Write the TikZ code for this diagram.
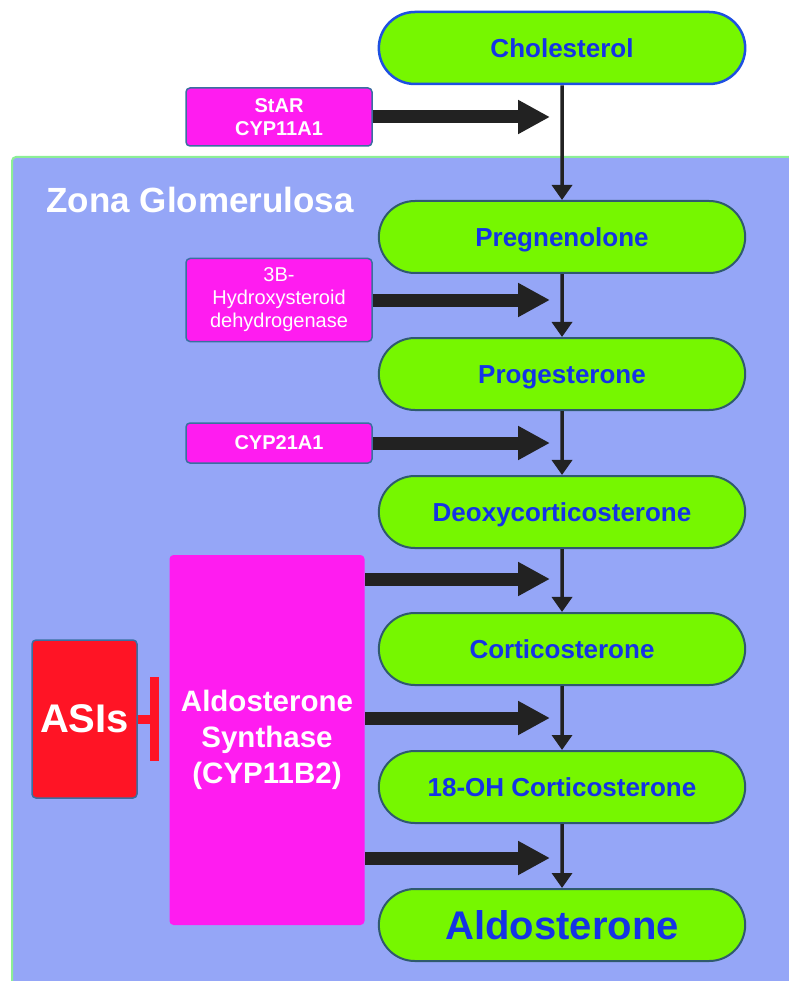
\documentclass[tikz,border=0pt]{standalone}
\usepackage{fontspec}
\setmainfont{Liberation Sans}
\usetikzlibrary{arrows.meta,positioning,shapes.misc}
\definecolor{zonefill}{RGB}{149,166,247}
\definecolor{zoneline}{RGB}{140,238,150}
\definecolor{pillgreen}{RGB}{118,247,0}
\definecolor{pillline}{RGB}{47,90,110}
\definecolor{cholline}{RGB}{30,80,225}
\definecolor{pilltext}{RGB}{20,51,230}
\definecolor{enzmag}{RGB}{255,28,240}
\definecolor{enzline}{RGB}{58,111,160}
\definecolor{asired}{RGB}{255,20,37}
\definecolor{arrowgray}{RGB}{34,34,34}
\begin{document}
\begin{tikzpicture}[x=1pt,y=-1pt,
    pill/.style={rounded rectangle, minimum width=373pt, minimum height=72pt, fill=pillgreen, draw=pillline, line width=2pt, text=pilltext, font=\bfseries\fontsize{26}{30}\selectfont, text depth=0pt, text height=19pt},
    enzyme/.style={rectangle, rounded corners=4pt, fill=enzmag, draw=enzline, line width=1.5pt, text=white, minimum width=186pt, align=center, inner sep=0pt},
    flow/.style={-{Triangle[length=15pt,width=20pt]}, line width=3.5pt, draw=arrowgray},
    push/.style={-{Triangle[length=32pt,width=32pt]}, line width=13pt, draw=arrowgray},
    block/.style={-{Bar[width=84pt]}, line width=9pt, draw=asired}]
    \useasboundingbox (0,0) rectangle (788,981);
    % zone
    \filldraw[fill=zonefill, draw=zoneline, line width=2pt, rounded corners=4pt] (12,157) rectangle (810,1000);
    \node[anchor=base west, text=white, font=\bfseries\fontsize{35}{40}\selectfont] (zone) at (43,213) {Zona Glomerulosa};
    % steroids
    \node[pill, draw=cholline, line width=2.5pt] (chol) at (562,48) {Cholesterol};
    \node[pill] (preg) at (562,237) {Pregnenolone};
    \node[pill] (prog) at (562,374) {Progesterone};
    \node[pill] (doc) at (562,512) {Deoxycorticosterone};
    \node[pill] (cort) at (562,649) {Corticosterone};
    \node[pill] (ohc) at (562,787) {18-OH Corticosterone};
    \node[pill, font=\bfseries\fontsize{40}{44}\selectfont, text height=29pt] (aldo) at (562,925) {Aldosterone};
    \draw[flow] (chol) -- (preg);
    \draw[flow] (preg) -- (prog);
    \draw[flow] (prog) -- (doc);
    \draw[flow] (doc) -- (cort);
    \draw[flow] (cort) -- (ohc);
    \draw[flow] (ohc) -- (aldo);
    % enzymes
    \node[enzyme, minimum height=58pt, font=\bfseries\fontsize{20}{23}\selectfont] (star) at (279,117) {StAR\\CYP11A1};
    \node[enzyme, minimum height=83pt, font=\fontsize{20}{23}\selectfont] (hsd) at (279,300) {3B-\\Hydroxysteroid\\dehydrogenase};
    \node[enzyme, minimum height=40pt, font=\bfseries\fontsize{20}{23}\selectfont] (cyp21) at (279,443) {CYP21A1};
    \node[enzyme, draw=none, minimum width=195pt, minimum height=370pt, font=\bfseries\fontsize{29.5}{36}\selectfont] (syn) at (267,740) {Aldosterone\\Synthase\\(CYP11B2)};
    \node[enzyme, fill=asired, minimum width=105pt, minimum height=158pt, font=\bfseries\fontsize{40}{44}\selectfont] (asi) at (84.5,719) {ASIs};
    \coordinate (t1) at (550,117);
    \coordinate (t2) at (550,300);
    \coordinate (t3) at (550,443);
    \coordinate (t4) at (550,579);
    \coordinate (t5) at (550,718);
    \coordinate (t6) at (550,858);
    \draw[push] (star) -- (t1);
    \draw[push] (hsd) -- (t2);
    \draw[push] (cyp21) -- (t3);
    \draw[push] (syn.east |- t4) -- (t4);
    \draw[push] (syn.east |- t5) -- (t5);
    \draw[push] (syn.east |- t6) -- (t6);
    % inhibition
    \coordinate (blk) at (159,719);
    \draw[block] (asi) -- (blk);
\end{tikzpicture}
\end{document}
